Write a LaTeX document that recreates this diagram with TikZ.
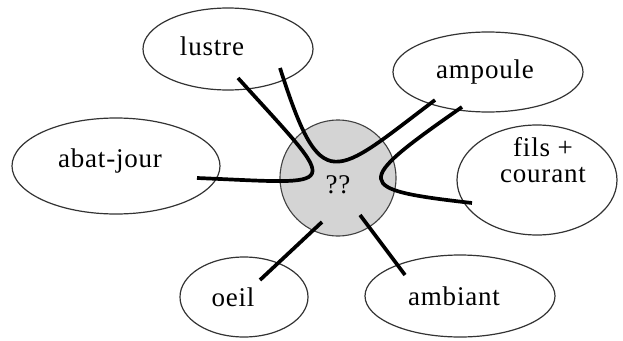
\documentclass[tikz,border=0pt]{standalone}
\usepackage{fontspec}
\setmainfont{Liberation Serif}[LetterSpace=3]
\usetikzlibrary{shapes.geometric,calc}
\begin{document}
\begin{tikzpicture}[x=1pt,y=-1pt,
 bubble/.style={ellipse, draw=black!80, line width=1.2pt, fill=white, inner sep=0pt},
 hub/.style={circle, draw=black!75, line width=1.1pt, fill=black!17, inner sep=0pt, minimum size=116pt},
 lbl/.style={font=\fontsize{27}{26}\selectfont, inner sep=0pt, anchor=base, text=black, align=center},
 link/.style={line width=3.7pt, black}]
\useasboundingbox (0,0) rectangle (623,340);
\node[hub] (hub) at (338,178) {};
\node[bubble, minimum width=170pt, minimum height=82pt] (lustre) at (228,49) {};
\node[bubble, minimum width=190pt, minimum height=80pt] (ampoule) at (488,72) {};
\node[bubble, minimum width=208pt, minimum height=96pt] (abat) at (116,166) {};
\node[bubble, minimum width=160pt, minimum height=110pt] (fils) at (537,180) {};
\node[bubble, minimum width=128pt, minimum height=80pt] (oeil) at (244,297) {};
\node[bubble, minimum width=190pt, minimum height=82pt] (ambiant) at (460,296) {};
\node[lbl] (hub-t) at (338,193) {??};
\node[lbl] (lustre-t) at (212,55) {lustre};
\node[lbl] (ampoule-t) at (485,78) {ampoule};
\node[lbl] (abat-t) at (110,167) {abat-jour};
\node[lbl] (fils-t) at (543,182) {fils +\\courant};
\node[lbl] (oeil-t) at (233,306) {oeil};
\node[lbl] (ambiant-t) at (454,305) {ambiant};
\draw[link] ($(abat.center)+(81,12)$) .. controls (345,184) and (342,193) .. ($(lustre.center)+(10,29)$);
\draw[link] ($(lustre.center)+(52,19)$) .. controls (321.6,198) and (333,177) .. ($(ampoule.center)+(-53,28)$);
\draw[link] ($(ampoule.center)+(-26,35)$) .. controls (351.6,183.8) and (353,189.4) .. ($(fils.center)+(-65,23)$);
\draw[link] ($(oeil.center)+(16,-17)$) -- ($(hub.center)+(-16,44)$);
\draw[link] ($(hub.center)+(22,37)$) -- ($(ambiant.center)+(-55,-21)$);
\end{tikzpicture}
\end{document}
